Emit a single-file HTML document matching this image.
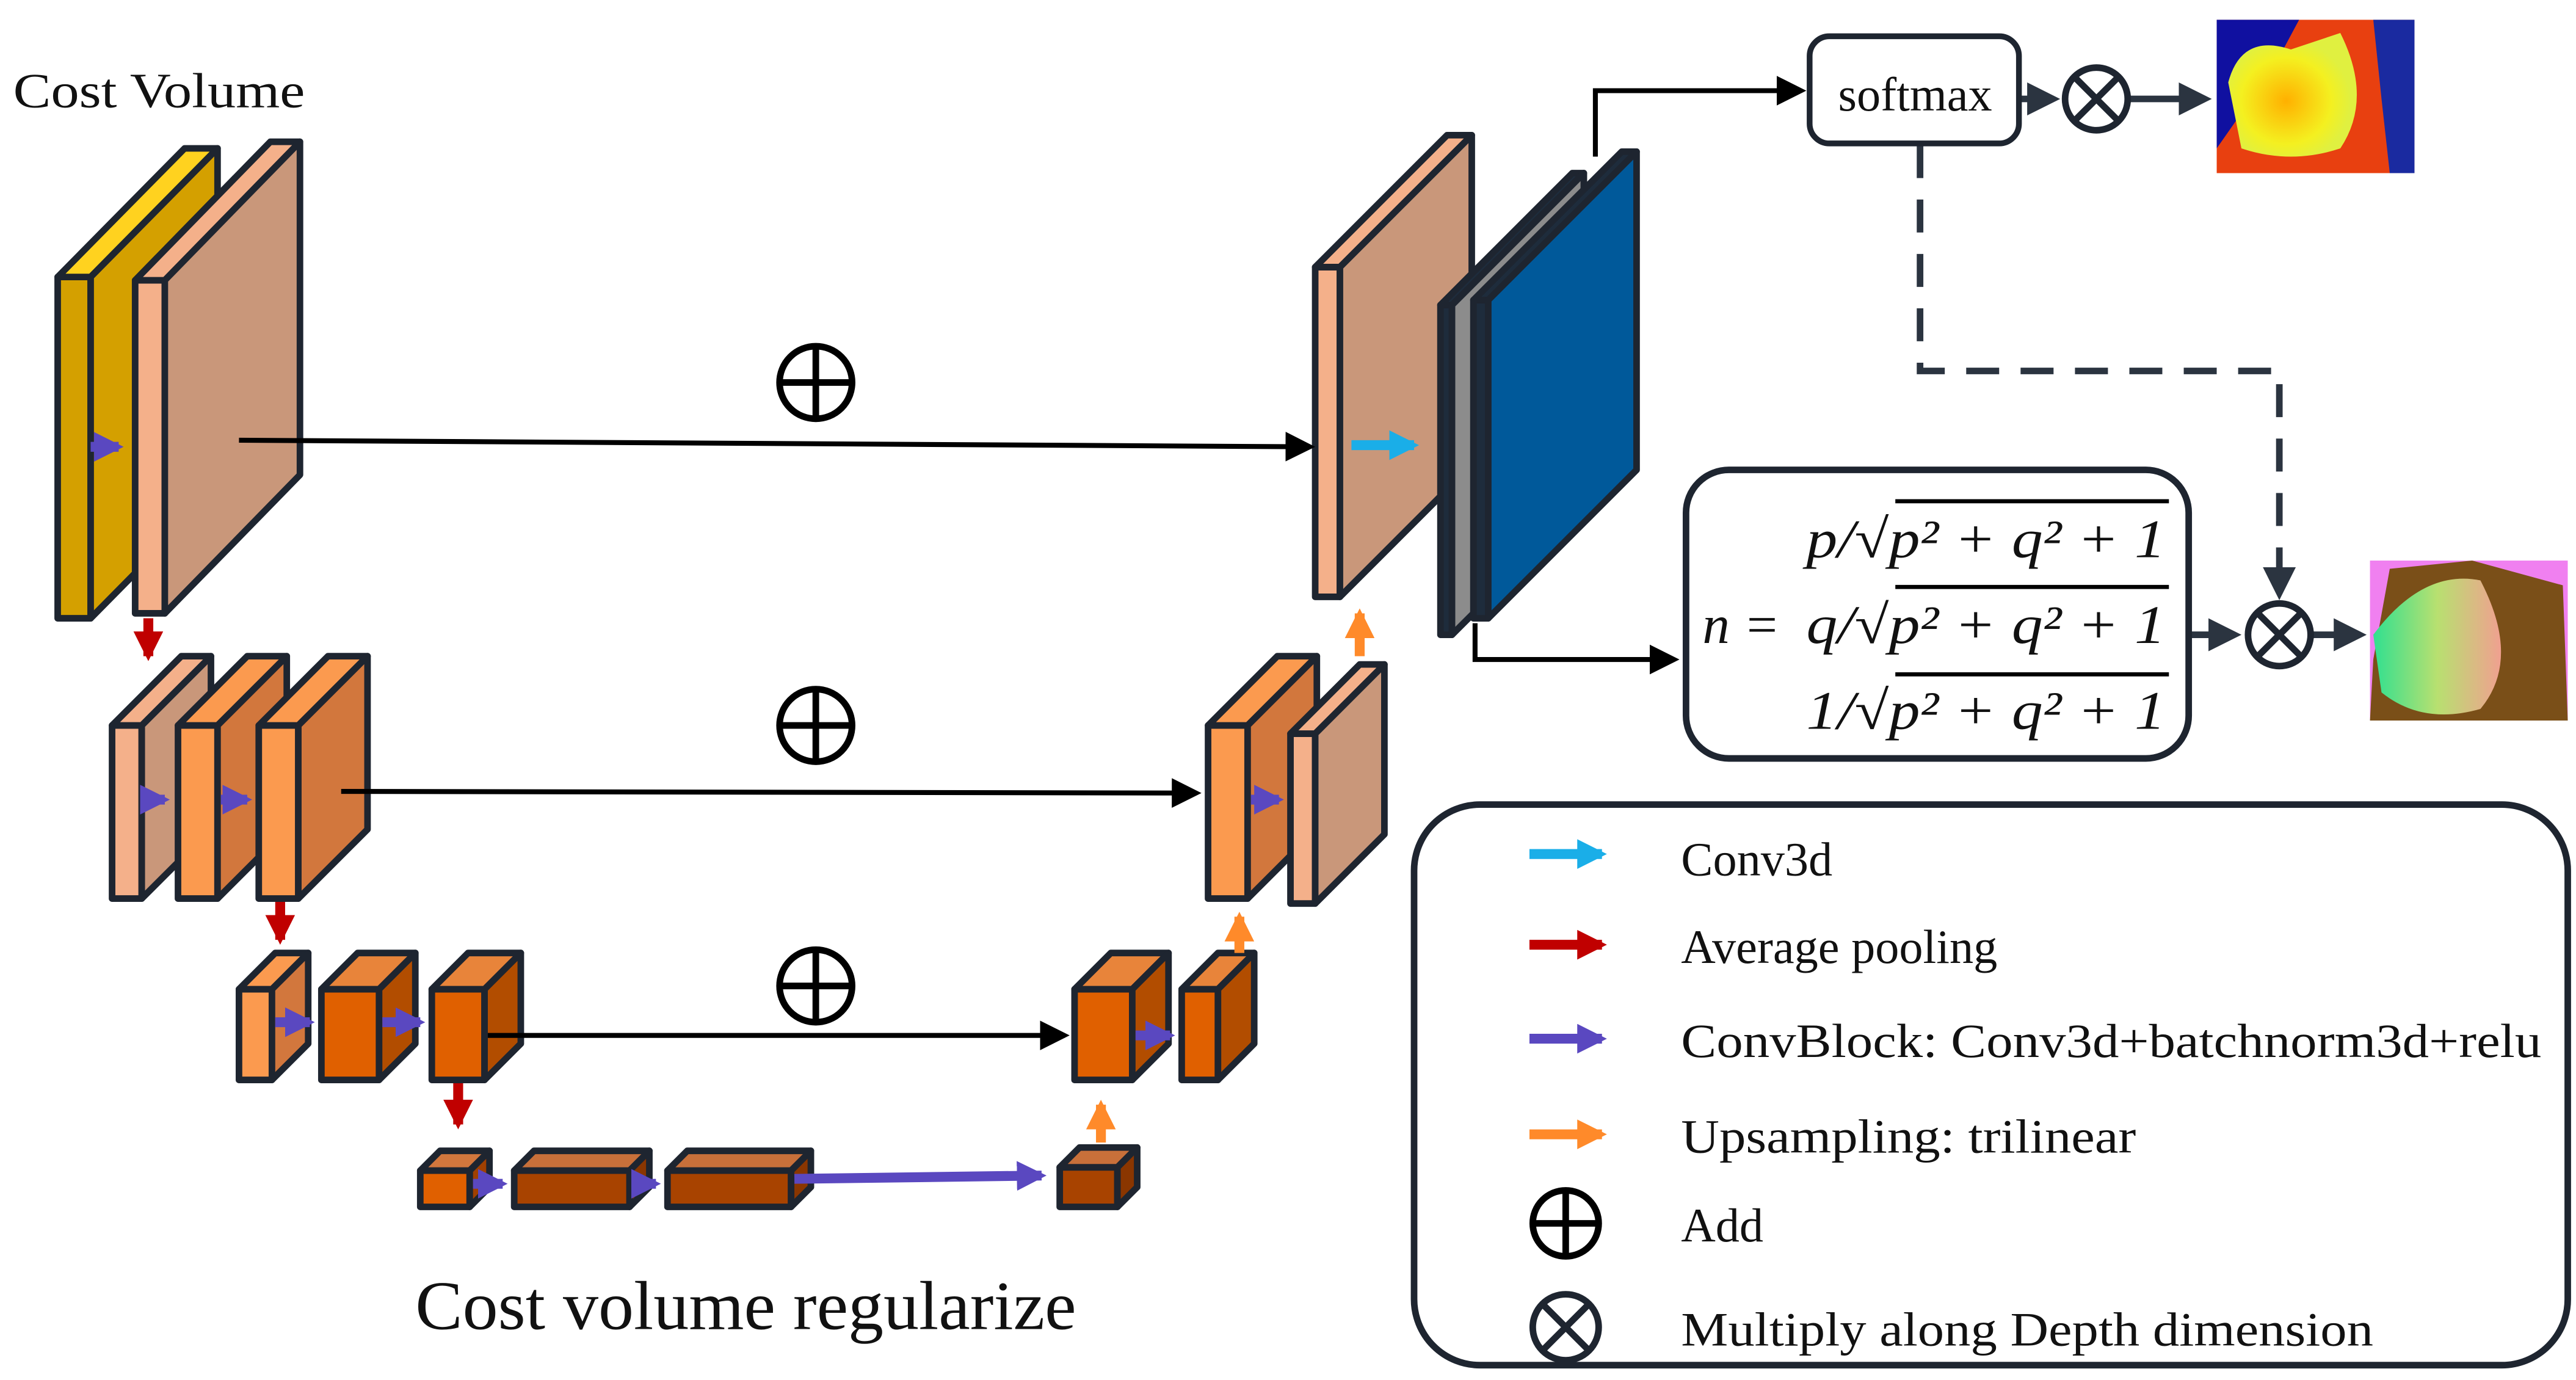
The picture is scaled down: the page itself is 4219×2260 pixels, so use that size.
<!DOCTYPE html>
<html><head><meta charset="utf-8"><style>
html,body{margin:0;padding:0;background:#fff;width:4219px;height:2260px;overflow:hidden}
svg{display:block}
text{font-family:"Liberation Serif",serif;fill:#111}
</style></head><body>
<svg width="4219" height="2260" viewBox="0 0 1563 837" preserveAspectRatio="none" xmlns="http://www.w3.org/2000/svg">
<defs>
<marker id="mk" markerWidth="6" markerHeight="6" refX="5" refY="3" orient="auto" markerUnits="strokeWidth"><path d="M0,0 L6,3 L0,6z" fill="#000"/></marker>
<marker id="md" markerWidth="5" markerHeight="5" refX="4" refY="2.5" orient="auto" markerUnits="strokeWidth"><path d="M0,0 L5,2.5 L0,5z" fill="#2b3440"/></marker>
<marker id="mp" markerWidth="3" markerHeight="3" refX="2.5" refY="1.5" orient="auto" markerUnits="strokeWidth"><path d="M0,0 L3,1.5 L0,3z" fill="#5a48c0"/></marker>
<marker id="mr" markerWidth="3" markerHeight="3" refX="2.5" refY="1.5" orient="auto" markerUnits="strokeWidth"><path d="M0,0 L3,1.5 L0,3z" fill="#c00000"/></marker>
<marker id="mo" markerWidth="3" markerHeight="3" refX="2.5" refY="1.5" orient="auto" markerUnits="strokeWidth"><path d="M0,0 L3,1.5 L0,3z" fill="#ff8a2a"/></marker>
<marker id="mc" markerWidth="3" markerHeight="3" refX="2.5" refY="1.5" orient="auto" markerUnits="strokeWidth"><path d="M0,0 L3,1.5 L0,3z" fill="#1aaee8"/></marker>
<linearGradient id="ng" x1="0" y1="0" x2="1" y2="0"><stop offset="0" stop-color="#30e090"/><stop offset="0.5" stop-color="#b8e070"/><stop offset="1" stop-color="#f0a090"/></linearGradient>
<radialGradient id="dg" cx="0.45" cy="0.55" r="0.5"><stop offset="0" stop-color="#ffb000"/><stop offset="0.7" stop-color="#f4f020"/><stop offset="1" stop-color="#e0f040"/></radialGradient>
</defs>
<g stroke="#1e2530" stroke-width="4" stroke-linejoin="round">
<rect x="35" y="168" width="20" height="207" fill="#d4a000"/>
<polygon points="35,168 55,168 132,90 112,90" fill="#ffd21f"/>
<polygon points="55,168 132,90 132,297 55,375" fill="#d4a000"/>
<rect x="82" y="170" width="18" height="202" fill="#f4b08a"/>
<polygon points="82,170 100,170 182,86 164,86" fill="#f4b08a"/>
<polygon points="100,170 182,86 182,288 100,372" fill="#c9977a"/>
<rect x="68" y="440" width="18" height="105" fill="#f4b08a"/>
<polygon points="68,440 86,440 128,398 110,398" fill="#f4b08a"/>
<polygon points="86,440 128,398 128,503 86,545" fill="#c9977a"/>
<rect x="108" y="440" width="24" height="105" fill="#fb9a4f"/>
<polygon points="108,440 132,440 174,398 150,398" fill="#fb9a4f"/>
<polygon points="132,440 174,398 174,503 132,545" fill="#d2773d"/>
<rect x="157" y="440" width="24" height="105" fill="#fb9a4f"/>
<polygon points="157,440 181,440 223,398 199,398" fill="#fb9a4f"/>
<polygon points="181,440 223,398 223,503 181,545" fill="#d2773d"/>
<rect x="733" y="440" width="24" height="105" fill="#fb9a4f"/>
<polygon points="733,440 757,440 799,398 775,398" fill="#fb9a4f"/>
<polygon points="757,440 799,398 799,503 757,545" fill="#d2773d"/>
<rect x="783" y="445" width="15" height="103" fill="#f4b08a"/>
<polygon points="783,445 798,445 840,403 825,403" fill="#f4b08a"/>
<polygon points="798,445 840,403 840,506 798,548" fill="#c9977a"/>
<rect x="145" y="600" width="20" height="55" fill="#fb9a4f"/>
<polygon points="145,600 165,600 187,578 167,578" fill="#fb9a4f"/>
<polygon points="165,600 187,578 187,633 165,655" fill="#d2773d"/>
<rect x="195" y="600" width="35" height="55" fill="#e06000"/>
<polygon points="195,600 230,600 252,578 217,578" fill="#e8843a"/>
<polygon points="230,600 252,578 252,633 230,655" fill="#b24d00"/>
<rect x="262" y="600" width="32" height="55" fill="#e06000"/>
<polygon points="262,600 294,600 316,578 284,578" fill="#e8843a"/>
<polygon points="294,600 316,578 316,633 294,655" fill="#b24d00"/>
<rect x="652" y="600" width="35" height="55" fill="#e06000"/>
<polygon points="652,600 687,600 709,578 674,578" fill="#e8843a"/>
<polygon points="687,600 709,578 709,633 687,655" fill="#b24d00"/>
<rect x="717" y="600" width="22" height="55" fill="#e06000"/>
<polygon points="717,600 739,600 761,578 739,578" fill="#e8843a"/>
<polygon points="739,600 761,578 761,633 739,655" fill="#b24d00"/>
<rect x="255" y="710" width="30" height="22" fill="#e06000"/>
<polygon points="255,710 285,710 297,698 267,698" fill="#d2773d"/>
<polygon points="285,710 297,698 297,720 285,732" fill="#a04000"/>
<rect x="312" y="710" width="70" height="22" fill="#a84300"/>
<polygon points="312,710 382,710 394,698 324,698" fill="#c8703a"/>
<polygon points="382,710 394,698 394,720 382,732" fill="#8a3600"/>
<rect x="405" y="710" width="75" height="22" fill="#a84300"/>
<polygon points="405,710 480,710 492,698 417,698" fill="#c8703a"/>
<polygon points="480,710 492,698 492,720 480,732" fill="#8a3600"/>
<rect x="643" y="708" width="35" height="24" fill="#a84300"/>
<polygon points="643,708 678,708 690,696 655,696" fill="#c8703a"/>
<polygon points="678,708 690,696 690,720 678,732" fill="#8a3600"/>
<rect x="798" y="162" width="15" height="200" fill="#f4b08a"/>
<polygon points="798,162 813,162 893,82 878,82" fill="#f4b08a"/>
<polygon points="813,162 893,82 893,282 813,362" fill="#c9977a"/>
<rect x="874" y="185" width="7" height="200" fill="#1e2c3c"/>
<polygon points="874,185 881,185 961,105 954,105" fill="#1e2c3c"/>
<polygon points="881,185 961,105 961,305 881,385" fill="#8c8c8c"/>
<rect x="894" y="182" width="9" height="193" fill="#1e2c3c"/>
<polygon points="894,182 903,182 993,92 984,92" fill="#1e2c3c"/>
<polygon points="903,182 993,92 993,285 903,375" fill="#00599a"/>
</g>
<g fill="none">
<line x1="145" y1="267" x2="795" y2="271" stroke="#000" stroke-width="3" marker-end="url(#mk)"/>
<line x1="207" y1="480" x2="726" y2="481" stroke="#000" stroke-width="3" marker-end="url(#mk)"/>
<line x1="296" y1="628" x2="646" y2="628" stroke="#000" stroke-width="3" marker-end="url(#mk)"/>
<polyline points="968,95 968,55 1093,55" stroke="#000" stroke-width="3" marker-end="url(#mk)"/>
<polyline points="895,378 895,400 1016,400" stroke="#000" stroke-width="3" marker-end="url(#mk)"/>
<g stroke="#5a48c0" stroke-width="6" marker-end="url(#mp)">
<line x1="55" y1="271" x2="72" y2="271"/>
<line x1="88" y1="485" x2="100" y2="485"/>
<line x1="134" y1="485" x2="150" y2="485"/>
<line x1="759" y1="485" x2="776" y2="485"/>
<line x1="167" y1="620" x2="188" y2="620"/>
<line x1="232" y1="620" x2="255" y2="620"/>
<line x1="689" y1="628" x2="710" y2="628"/>
<line x1="287" y1="718" x2="305" y2="718"/>
<line x1="384" y1="718" x2="398" y2="718"/>
<line x1="482" y1="715" x2="632" y2="713"/>
</g>
<g stroke="#c00000" stroke-width="6" marker-end="url(#mr)">
<line x1="90" y1="375" x2="90" y2="398"/>
<line x1="170" y1="547" x2="170" y2="570"/>
<line x1="278" y1="657" x2="278" y2="682"/>
</g>
<g stroke="#ff8a2a" stroke-width="6" marker-end="url(#mo)">
<line x1="825" y1="398" x2="825" y2="372"/>
<line x1="752" y1="578" x2="752" y2="556"/>
<line x1="668" y1="693" x2="668" y2="670"/>
</g>
<line x1="820" y1="270" x2="858" y2="270" stroke="#1aaee8" stroke-width="6" marker-end="url(#mc)"/>
<polyline points="1165,88 1165,225 1383,225 1383,360" stroke="#2b3440" stroke-width="4" stroke-dasharray="20 13" marker-end="url(#md)"/>
<line x1="1225" y1="60" x2="1246" y2="60" stroke="#2b3440" stroke-width="4" marker-end="url(#md)"/>
<line x1="1292" y1="60" x2="1338" y2="60" stroke="#2b3440" stroke-width="4" marker-end="url(#md)"/>
<line x1="1328" y1="385" x2="1356" y2="385" stroke="#2b3440" stroke-width="4" marker-end="url(#md)"/>
<line x1="1403" y1="385" x2="1432" y2="385" stroke="#2b3440" stroke-width="4" marker-end="url(#md)"/>
</g>
<g fill="none" stroke="#000" stroke-width="4">
<circle cx="495" cy="232" r="22"/><line x1="473" y1="232" x2="517" y2="232"/><line x1="495" y1="210" x2="495" y2="254"/>
<circle cx="495" cy="440" r="22"/><line x1="473" y1="440" x2="517" y2="440"/><line x1="495" y1="418" x2="495" y2="462"/>
<circle cx="495" cy="598" r="22"/><line x1="473" y1="598" x2="517" y2="598"/><line x1="495" y1="576" x2="495" y2="620"/>
<circle cx="950" cy="742" r="20"/><line x1="930" y1="742" x2="970" y2="742"/><line x1="950" y1="722" x2="950" y2="762"/>
</g>
<g fill="none" stroke="#1e2530" stroke-width="4">
<circle cx="1272" cy="60" r="19"/><line x1="1259" y1="47" x2="1285" y2="73"/><line x1="1285" y1="47" x2="1259" y2="73"/>
<circle cx="1383" cy="385" r="19"/><line x1="1370" y1="372" x2="1396" y2="398"/><line x1="1396" y1="372" x2="1370" y2="398"/>
<circle cx="950" cy="805" r="20"/><line x1="936" y1="791" x2="964" y2="819"/><line x1="964" y1="791" x2="936" y2="819"/>
</g>
<rect x="1098" y="22" width="127" height="65" rx="12" fill="#fff" stroke="#1e2530" stroke-width="3.5"/>
<text x="1162" y="67" font-size="29" text-anchor="middle">softmax</text>
<rect x="1345" y="12" width="120" height="93" fill="#e84010"/>
<polygon points="1345,12 1395,12 1380,40 1345,90" fill="#1010a0"/>
<polygon points="1440,12 1465,12 1465,105 1450,105 1445,60" fill="#1a2aa0"/>
<path d="M1352,50 Q1360,20 1390,30 L1420,20 Q1440,60 1420,90 Q1390,100 1360,90 Z" fill="url(#dg)"/>
<rect x="1438" y="340" width="120" height="97" fill="#f080f0"/>
<polygon points="1450,345 1500,340 1555,355 1558,437 1438,437 1440,400" fill="#7a4f18"/>
<path d="M1440,385 Q1470,345 1505,352 Q1530,400 1505,430 Q1470,440 1445,420 Z" fill="url(#ng)"/>
<rect x="1023" y="285" width="305" height="175" rx="26" fill="#fff" stroke="#1e2530" stroke-width="4"/>
<g font-size="33" font-style="italic">
<text x="1314" y="338" text-anchor="end" textLength="218" lengthAdjust="spacingAndGlyphs">p/√p² + q² + 1</text>
<text x="1314" y="390" text-anchor="end" textLength="218" lengthAdjust="spacingAndGlyphs">q/√p² + q² + 1</text>
<text x="1314" y="442" text-anchor="end" textLength="218" lengthAdjust="spacingAndGlyphs">1/√p² + q² + 1</text>
<text x="1033" y="390">n =</text>
</g>
<g stroke="#000" stroke-width="2.5"><line x1="1150" y1="304" x2="1316" y2="304"/><line x1="1150" y1="356" x2="1316" y2="356"/><line x1="1150" y1="409" x2="1316" y2="409"/></g>
<rect x="858" y="488" width="700" height="340" rx="40" fill="none" stroke="#1e2530" stroke-width="4"/>
<g stroke-width="6" fill="none">
<line x1="928" y1="518" x2="972" y2="518" stroke="#1aaee8" marker-end="url(#mc)"/>
<line x1="928" y1="573" x2="972" y2="573" stroke="#c00000" marker-end="url(#mr)"/>
<line x1="928" y1="630" x2="972" y2="630" stroke="#5a48c0" marker-end="url(#mp)"/>
<line x1="928" y1="688" x2="972" y2="688" stroke="#ff8a2a" marker-end="url(#mo)"/>
</g>
<g font-size="29">
<text x="1020" y="531">Conv3d</text>
<text x="1020" y="584">Average pooling</text>
<text x="1020" y="641" textLength="522" lengthAdjust="spacingAndGlyphs">ConvBlock: Conv3d+batchnorm3d+relu</text>
<text x="1020" y="699" textLength="276" lengthAdjust="spacingAndGlyphs">Upsampling: trilinear</text>
<text x="1020" y="753">Add</text>
<text x="1020" y="816" textLength="420" lengthAdjust="spacingAndGlyphs">Multiply along Depth dimension</text>
</g>
<text x="8" y="65" font-size="30" textLength="177" lengthAdjust="spacingAndGlyphs">Cost Volume</text>
<text x="252" y="806" font-size="42" textLength="401" lengthAdjust="spacingAndGlyphs">Cost volume regularize</text>
</svg>
</body></html>
